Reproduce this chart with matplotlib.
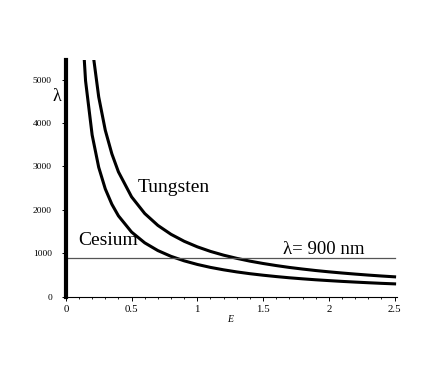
import matplotlib
matplotlib.use("Agg")
from matplotlib import pyplot as plt
from matplotlib.ticker import MultipleLocator

# values
energy = [0.1, 0.15, 0.2, 0.25, 0.3, 0.35, 0.4, 0.5, 0.6, 0.7, 0.8, 0.9, 1.0,
          1.1, 1.2, 1.3, 1.4, 1.5, 1.6, 1.7, 1.8, 1.9, 2.0, 2.1, 2.2, 2.3,
          2.4, 2.5]
tungsten = [11500, 7650, 5750, 4600, 3833, 3290, 2875, 2300, 1917, 1643, 1438,
            1278, 1150, 1045, 958, 885, 821, 767, 719, 676, 639, 605, 575, 548,
            523, 500, 479, 460]
cesium = [7450, 4970, 3725, 2980, 2483, 2130, 1863, 1490, 1242, 1064, 931,
          828, 745, 677, 621, 573, 532, 497, 466, 438, 414, 392, 373, 355, 339,
          324, 310, 298]
cutoff = 900

plt.rcParams['font.family'] = ['Liberation Serif', 'DejaVu Serif']

fig = plt.figure(figsize=(4.36, 3.82), dpi=100)
ax = fig.add_axes([0.151, 0.223, 0.76, 0.62])

ax.plot(energy, tungsten, color='black', lw=2.2)
ax.plot(energy, cesium, color='black', lw=2.2)
ax.plot([0, 2.5], [cutoff, cutoff], color='#555555', lw=0.9)

ax.set_xlim(0, 2.52)
ax.set_ylim(0, 5450)

for s in ['top', 'right']:
    ax.spines[s].set_visible(False)
ax.spines['left'].set_linewidth(3)
ax.spines['bottom'].set_linewidth(0.8)

ax.xaxis.set_major_locator(MultipleLocator(0.5))
ax.xaxis.set_minor_locator(MultipleLocator(0.1))
ax.yaxis.set_major_locator(MultipleLocator(1000))
ax.yaxis.set_minor_locator(MultipleLocator(200))
ax.set_xticks([0, 0.5, 1, 1.5, 2, 2.5])
ax.set_xticklabels(['0', '0.5', '1', '1.5', '2', '2.5'])
ax.tick_params(labelsize=6.8, length=3, width=0.7, pad=2)
ax.tick_params(axis='x', labelsize=7.8, pad=3)
ax.tick_params(axis='y', pad=7)
ax.tick_params(which='minor', length=1.5, width=0.6)

ax.text(-0.035, 4610, 'λ', fontsize=13, ha='right', va='center')
ax.text(1.25, -520, 'E', fontsize=7, style='italic', ha='center', va='center')
ax.text(0.545, 2508, 'Tungsten', fontsize=14, va='center')
ax.text(0.098, 1290, 'Cesium', fontsize=14, va='center')
ax.text(1.65, 1100, 'λ= 900 nm', fontsize=13.5, va='center')

fig.savefig('out.png', dpi=100)
